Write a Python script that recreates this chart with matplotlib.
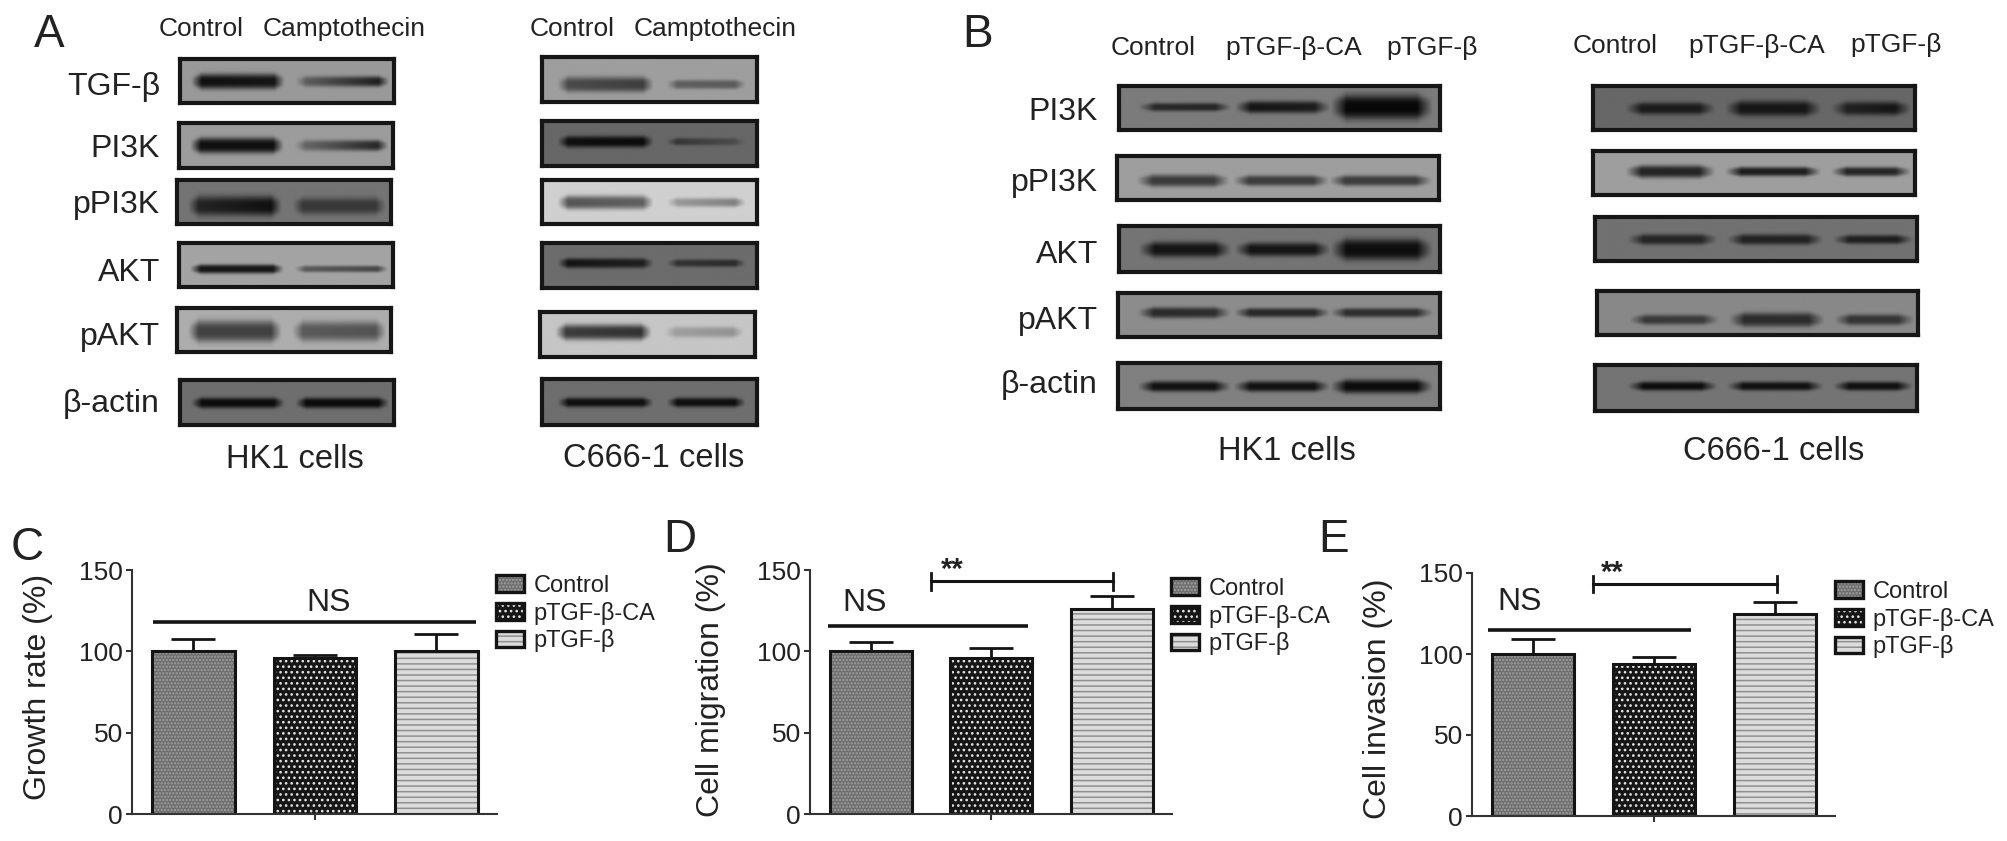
import numpy as np
import matplotlib
matplotlib.use('Agg')
import matplotlib.pyplot as plt
from matplotlib.patches import Patch
from matplotlib.legend_handler import HandlerTuple

plt.rcParams['font.family'] = ['Liberation Sans', 'DejaVu Sans']
plt.rcParams['hatch.linewidth'] = 1.1

W, H = 2008, 841
TXT = '#222222'

# ---- data ----
groups = ['Control', 'pTGF-β-CA', 'pTGF-β']
growth_rate = [100, 96, 100]
growth_err = [7.5, 2, 10.5]
migration = [100, 96, 126]
migration_err = [6, 6, 8]
invasion = [100, 94, 125]
invasion_err = [9, 4, 7]
y_ticks = [0, 50, 100, 150]

a_labels = ['TGF-β', 'PI3K', 'pPI3K', 'AKT', 'pAKT', 'β-actin']
b_labels = ['PI3K', 'pPI3K', 'AKT', 'pAKT', 'β-actin']

# band darkness per lane as (left end, right end), 0 = none, 1 = black
a_hk1_dark = [[(.95, .9), (.35, .9)], [(.95, .95), (.3, .85)], [(.72, .95), (.55, .55)],
              [(.9, .9), (.45, .6)], [(.65, .65), (.5, .55)], [(.97, .97), (.97, .97)]]
a_c666_dark = [[(.55, .65), (.42, .45)], [(.92, .97), (.55, .25)], [(.62, .55), (.25, .42)],
               [(.9, .75), (.55, .65)], [(.72, .78), (.2, .28)], [(.92, .92), (.92, .92)]]
b_hk1_dark = [[(.7, .75), (.9, .8), (1, 1)], [(.65, .65), (.65, .65), (.65, .65)],
              [(.88, .88), (.88, .88), (.95, .95)], [(.75, .7), (.75, .75), (.7, .7)],
              [(.92, .92), (.92, .92), (.97, .97)]]
b_c666_dark = [[(.8, .8), (.85, .85), (.7, .9)], [(.82, .8), (.85, .85), (.8, .8)],
               [(.72, .72), (.75, .75), (.75, .8)], [(.62, .6), (.72, .72), (.65, .65)],
               [(.95, .95), (.92, .92), (.92, .92)]]

# band thickness per lane, pixels
a_hk1_thick = [[5, 3.5], [5, 3.5], [6.5, 5.5], [3, 2.2], [7, 6.5], [3.5, 3.5]]
a_c666_thick = [[5, 3], [3.8, 2.5], [4.5, 3], [3.2, 2.5], [5, 3.5], [3.2, 3.2]]
b_hk1_thick = [[2.8, 4, 8], [4, 3.5, 3.5], [5, 4.5, 7], [3.5, 3, 3], [3.5, 3.5, 4.5]]
b_c666_thick = [[4, 5, 4.5], [4, 3, 3], [3.5, 3.5, 3], [3.2, 4.5, 3.5], [3, 3, 3]]

# membrane grey level of each strip
a_hk1_bg = [145, 148, 108, 155, 165, 102]
a_c666_bg = [150, 95, 200, 100, 190, 102]
b_hk1_bg = [115, 150, 108, 132, 120]
b_c666_bg = [95, 150, 105, 128, 108]

# ---- layout, pixels in the full picture ----
a_hk1_boxes = [(178, 396, 57, 105), (177, 395, 121, 170), (175, 393, 178, 226),
               (177, 395, 241, 289), (175, 393, 306, 354), (178, 396, 378, 427)]
a_c666_boxes = [(540, 759, 55, 104), (540, 759, 119, 168), (540, 759, 178, 226),
                (540, 759, 241, 290), (538, 757, 310, 359), (540, 759, 377, 427)]
b_hk1_boxes = [(1117, 1442, 84, 132), (1115, 1441, 154, 202), (1117, 1442, 224, 274),
               (1116, 1442, 291, 339), (1116, 1442, 361, 411)]
b_c666_boxes = [(1591, 1917, 84, 132), (1591, 1917, 149, 197), (1593, 1919, 215, 263),
                (1595, 1920, 289, 337), (1593, 1919, 363, 413)]
a_hk1_lanes = [(.05, .49), (.54, .98)]
a_c666_lanes = [(.07, .52), (.58, .95)]
b_hk1_lanes = [(.06, .35), (.36, .66), (.66, .98)]
b_c666_lanes = [(.1, .38), (.41, .71), (.74, .99)]
a_hk1_band_y = [.5, .5, .58, .58, .52, .5]
a_c666_band_y = [.6, .45, .5, .45, .45, .5]
b_hk1_band_y = [.47, .55, .5, .45, .5]
b_c666_band_y = [.5, .47, .5, .65, .45]
a_label_base = [95, 157, 213, 281, 345, 412]
b_label_base = [120, 191, 263, 329, 393]


fig = plt.figure(figsize=(W / 100, H / 100), dpi=100)


def px_axes(x0, x1, y0, y1, **kw):
    # axes from pixel box, y measured from the top
    return fig.add_axes([x0 / W, 1 - y1 / H, (x1 - x0) / W, (y1 - y0) / H], **kw)


def put(x, y, s, size, ha='center', va='baseline', **kw):
    fig.text(x / W, 1 - y / H, s, fontsize=size, ha=ha, va=va, color=TXT, **kw)


def draw_blot(box, lanes, dark, thick, bg, band_y):
    x0, x1, y0, y1 = box
    ax = px_axes(x0 + 2, x1 - 2, y0 + 2, y1 - 2)
    w, h = x1 - x0, y1 - y0
    xs = np.linspace(0, 1, w)
    ys = np.arange(h)
    img = np.ones((h, w))
    for (l0, l1), d, t in zip(lanes, dark, thick):
        edge = 0.05
        mask = np.clip((xs - l0) / edge, 0, 1) * np.clip((l1 - xs) / edge, 0, 1)
        strength = d[0] + (d[1] - d[0]) * np.clip((xs - l0) / (l1 - l0), 0, 1)
        # band gets thinner toward lane ends, flat-topped across its height
        sigma = t * (0.6 + 0.4 * mask) * 1.25
        prof = np.exp(-(np.abs(ys[:, None] - band_y * h) / (1.3 * sigma[None, :])) ** 3)
        img *= 1 - strength[None, :] * mask[None, :] * prof
    img = img * bg + 8
    ax.imshow(img, cmap='gray', vmin=0, vmax=255, aspect='auto', interpolation='bilinear')
    ax.set_xticks([])
    ax.set_yticks([])
    for s in ax.spines.values():
        s.set_linewidth(3.0)
        s.set_color('#161616')


def draw_panel(boxes, lanes, darks, thicks, bgs, band_ys):
    for box, dark, thick, bg, by in zip(boxes, darks, thicks, bgs, band_ys):
        draw_blot(box, lanes, dark, thick, bg, by)


draw_panel(a_hk1_boxes, a_hk1_lanes, a_hk1_dark, a_hk1_thick, a_hk1_bg, a_hk1_band_y)
draw_panel(a_c666_boxes, a_c666_lanes, a_c666_dark, a_c666_thick, a_c666_bg, a_c666_band_y)
draw_panel(b_hk1_boxes, b_hk1_lanes, b_hk1_dark, b_hk1_thick, b_hk1_bg, b_hk1_band_y)
draw_panel(b_c666_boxes, b_c666_lanes, b_c666_dark, b_c666_thick, b_c666_bg, b_c666_band_y)

for lab, y in zip(a_labels, a_label_base):
    put(160, y, lab, 23, ha='right')
for lab, y in zip(b_labels, b_label_base):
    put(1098, y, lab, 23, ha='right')

put(201, 36, 'Control', 19)
put(344, 36, 'Camptothecin', 19)
put(572, 36, 'Control', 19)
put(715, 36, 'Camptothecin', 19)
put(1153, 55, groups[0], 19)
put(1294, 55, groups[1], 19)
put(1432, 55, groups[2], 19)
put(1615, 53, groups[0], 19)
put(1757, 53, groups[1], 19)
put(1896, 52, groups[2], 19)
put(295, 468, 'HK1 cells', 23.5)
put(654, 467, 'C666-1 cells', 23.5)
put(1287, 460, 'HK1 cells', 23.5)
put(1774, 460, 'C666-1 cells', 23.5)

put(49, 47, 'A', 33)
put(978, 47, 'B', 33)
put(27, 560, 'C', 33)
put(680, 552, 'D', 33)
put(1334, 552, 'E', 33)

# hatch styles: face, hatch colour, hatch
bar_faces = ['#6e6e6e', '#161616', '#dcdcdc']
bar_hatch_col = ['#a0a0a0', '#e4e4e4', '#8f8f8f']
bar_hatches = ['.....', '...', '---']


def bar_panel(box, values, errs, ylabel, ylab_xy, ns_line, ns_xy, legend_xy, sig=None):
    x0, x1, y0, y1 = box
    ax = px_axes(x0, x1, y0, y1)
    pos = np.arange(len(values))
    for i in pos:
        ax.bar(i, values[i], width=0.68, color=bar_faces[i], edgecolor=bar_hatch_col[i],
               hatch=bar_hatches[i], linewidth=0)
        ax.bar(i, values[i], width=0.68, fill=False, edgecolor='#141414', linewidth=2.2)
        ax.errorbar(i, values[i], yerr=[[0], [errs[i]]], color='#141414', elinewidth=2,
                    capsize=15.5, capthick=2, clip_on=False, zorder=4)
    ax.set_xlim(-0.505, 2.5)
    ax.set_ylim(0, 150)
    ax.set_xticks([1])
    ax.set_xticklabels([''])
    ax.set_yticks(y_ticks)
    ax.tick_params(axis='both', length=4.5, width=1.5, color='#333333', labelsize=19,
                   labelcolor=TXT, pad=2)
    ax.spines['top'].set_visible(False)
    ax.spines['right'].set_visible(False)
    ax.spines['left'].set_linewidth(1.5)
    ax.spines['bottom'].set_linewidth(1.5)
    ax.spines['left'].set_color('#333333')
    ax.spines['bottom'].set_color('#333333')
    ax.set_ylabel(ylabel, fontsize=23, color=TXT)
    ax.yaxis.set_label_coords(ylab_xy[0] / W, 1 - ylab_xy[1] / H, transform=fig.transFigure)

    # NS line and text
    ax.plot(ns_line[:2], [ns_line[2], ns_line[2]], color='#141414', lw=2.6, clip_on=False,
            solid_capstyle='butt')
    ax.text(ns_xy[0], ns_xy[1], 'NS', fontsize=23, ha='center', va='baseline', color=TXT)

    # significance bracket
    if sig is not None:
        bx0, bx1, by, sx, sy = sig
        ax.plot([bx0, bx1], [by, by], color='#141414', lw=2.2, clip_on=False)
        ax.plot([bx0, bx0], [by - 5, by + 5], color='#141414', lw=2, clip_on=False)
        ax.plot([bx1, bx1], [by - 5, by + 5], color='#141414', lw=2, clip_on=False)
        ax.text(sx, sy, '**', fontsize=21, fontweight='bold', ha='center', va='center',
                color=TXT, clip_on=False)

    handles = []
    for i in pos:
        h1 = Patch(facecolor=bar_faces[i], edgecolor=bar_hatch_col[i], hatch=bar_hatches[i],
                   linewidth=0)
        h2 = Patch(fill=False, edgecolor='#141414', linewidth=2.4)
        handles.append((h1, h2))
    fig.legend(handles, groups, loc='upper left',
               bbox_to_anchor=(legend_xy[0] / W, 1 - legend_xy[1] / H),
               bbox_transform=fig.transFigure, frameon=False, fontsize=17, borderpad=0,
               borderaxespad=0, handlelength=1.2, handleheight=0.7, handletextpad=0.38,
               labelspacing=0.2, labelcolor=TXT,
               handler_map={tuple: HandlerTuple(ndivide=1, pad=0)})


bar_panel((132, 497, 570, 814), growth_rate, growth_err, 'Growth rate (%)', (53, 687),
          (-0.33, 2.33, 118), (1.11, 125), (496, 575))
bar_panel((810, 1172, 570, 814), migration, migration_err, 'Cell migration (%)', (726, 690),
          (-0.355, 1.306, 115.5), (-0.054, 125), (1171, 578), sig=(0.496, 2.008, 143, 0.675, 150))
bar_panel((1472, 1835, 573, 816), invasion, invasion_err, 'Cell invasion (%)', (1393, 699),
          (-0.37, 1.306, 115), (-0.11, 127), (1835, 581), sig=(0.496, 2.016, 143, 0.653, 150))

fig.savefig('out.png', dpi=100)
